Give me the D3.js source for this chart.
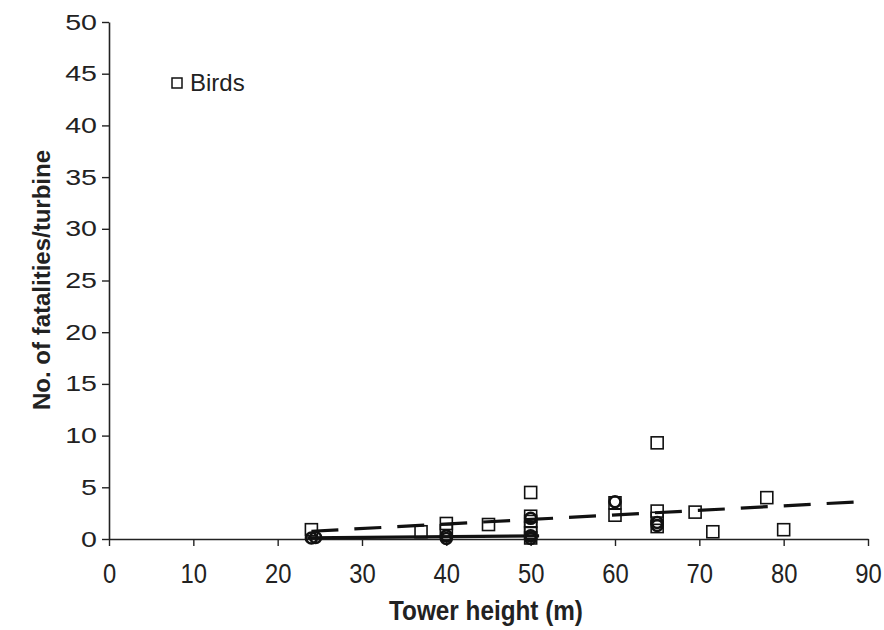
<!DOCTYPE html>
<html>
<head>
<meta charset="utf-8">
<script src="https://cdn.jsdelivr.net/npm/d3@7"></script>
<style>
  body { margin: 0; background: #fff; }
  text { font-family: "Liberation Sans", Arial, sans-serif; }
</style>
</head>
<body>
<svg id="chart"></svg>
<script>
// birds (open squares)
const birdX = [24, 37, 40, 40, 45, 50, 50, 50, 50, 50, 50, 60, 60, 65, 65, 65, 65, 69.5, 71.6, 78, 80];
const birdY = [0.9, 0.7, 1.5, 0.8, 1.4, 4.5, 2.2, 1.7, 1.1, 0.6, 0.1, 3.5, 2.3, 9.3, 2.7, 2.0, 1.2, 2.6, 0.7, 4.0, 0.9];
// bats (bold open circles)
const batX = [24, 24.5, 40, 40, 50, 50, 50, 60, 65, 65];
const batY = [0.1, 0.15, 0.3, 0.05, 2.0, 0.3, 0.05, 3.6, 1.6, 1.3];
// trend lines
const birdTrendX = [24, 90];
const birdTrendY = [0.75, 3.65];
const batTrendX = [23.5, 51];
const batTrendY = [0.1, 0.3];

const xTicks = d3.range(0, 91, 10);
const yTicks = d3.range(0, 51, 5);

const W = 884, H = 630;
const margin = { top: 22, left: 109, bottom: 91, right: 16 };

const svg = d3.select('#chart').attr('width', W).attr('height', H);

// x scale
const xScale = d3.scaleLinear()
  .domain([0, 90])
  .range([margin.left, W - margin.right]);

// y scale
const yScale = d3.scaleLinear()
  .domain([0, 50])
  .range([H - margin.bottom, margin.top]);

const ink = '#222';

// axes
const xAxis = svg.append('g')
  .attr('transform', `translate(0, ${yScale(0)})`)
  .call(d3.axisBottom(xScale).tickValues(xTicks).tickSize(7).tickPadding(12).tickSizeOuter(0));
const yAxis = svg.append('g')
  .attr('transform', `translate(${xScale(0)}, 0)`)
  .call(d3.axisLeft(yScale).tickValues(yTicks).tickSize(7).tickPadding(5).tickSizeOuter(0));

[xAxis, yAxis].forEach(a => {
  a.select('.domain').attr('stroke', ink).attr('stroke-width', 1.6);
  a.selectAll('.tick line').attr('stroke', ink).attr('stroke-width', 1.4);
  a.selectAll('.tick text')
    .attr('fill', ink)
    .style('font-family', '"Liberation Sans", Arial, sans-serif');
});

// x labels look tall and narrow, y labels wide
xAxis.selectAll('.tick text')
  .style('font-size', '28px')
  .attr('y', 24)
  .attr('dy', '0.71em')
  .attr('transform', 'scale(0.85,1)');
yAxis.selectAll('.tick text')
  .style('font-size', '22px')
  .attr('x', -12 / 1.3)
  .attr('transform', 'scale(1.3,1)');

// trend lines
const line = d3.line().x(d => xScale(d[0])).y(d => yScale(d[1]));
svg.append('path')
  .datum(birdTrendX.map((x, i) => [x, birdTrendY[i]]))
  .attr('d', line)
  .attr('fill', 'none')
  .attr('stroke', '#111')
  .attr('stroke-width', 3.2)
  .attr('stroke-dasharray', '27,16');
svg.append('path')
  .datum(batTrendX.map((x, i) => [x, batTrendY[i]]))
  .attr('d', line)
  .attr('fill', 'none')
  .attr('stroke', '#111')
  .attr('stroke-width', 3.2);

// bats
svg.selectAll('.bat')
  .data(batX.map((x, i) => [x, batY[i]]))
  .enter()
  .append('circle')
  .attr('cx', d => xScale(d[0]))
  .attr('cy', d => yScale(d[1]))
  .attr('r', 5.5)
  .attr('fill', 'none')
  .attr('stroke', '#111')
  .attr('stroke-width', 2.6);

// birds
const sq = 12;
svg.selectAll('.bird')
  .data(birdX.map((x, i) => [x, birdY[i]]))
  .enter()
  .append('rect')
  .attr('x', d => xScale(d[0]) - sq / 2)
  .attr('y', d => yScale(d[1]) - sq / 2)
  .attr('width', sq)
  .attr('height', sq)
  .attr('fill', 'none')
  .attr('stroke', '#111')
  .attr('stroke-width', 1.6);

// legend
svg.append('rect')
  .attr('x', 172).attr('y', 78).attr('width', 10).attr('height', 10)
  .attr('fill', 'none').attr('stroke', '#111').attr('stroke-width', 1.5);
svg.append('text')
  .attr('x', 190).attr('y', 91)
  .attr('fill', ink)
  .style('font-size', '24px')
  .text('Birds');

// axis titles
svg.append('text')
  .attr('transform', 'translate(486, 620) scale(0.9,1)')
  .attr('text-anchor', 'middle')
  .attr('fill', ink)
  .style('font-size', '27px')
  .style('font-weight', 'bold')
  .text('Tower height (m)');
svg.append('text')
  .attr('transform', 'translate(50, 280) rotate(-90)')
  .attr('text-anchor', 'middle')
  .attr('fill', ink)
  .style('font-size', '24px')
  .style('font-weight', 'bold')
  .text('No. of fatalities/turbine');
</script>
</body>
</html>
